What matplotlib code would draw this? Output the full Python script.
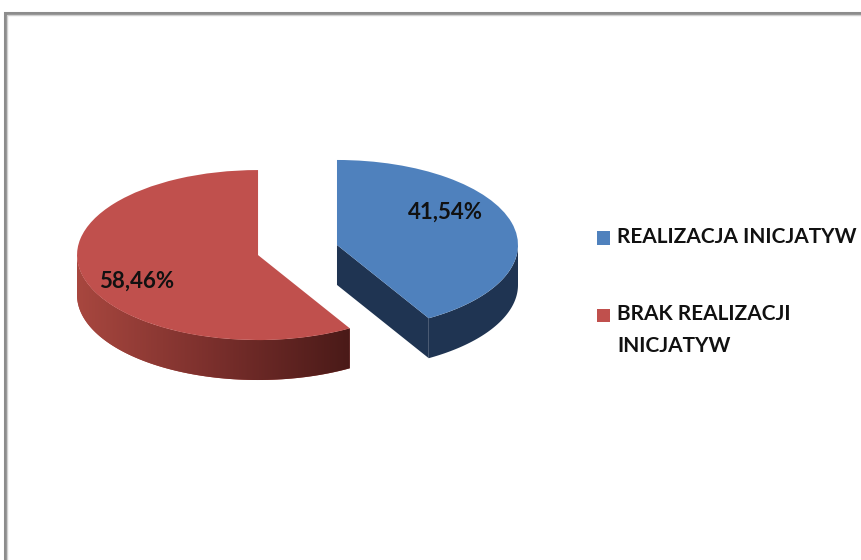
import numpy as np
import matplotlib.pyplot as plt
from matplotlib.patches import Polygon, Rectangle
from matplotlib.colors import LinearSegmentedColormap

labels = ["REALIZACJA INICJATYW", "BRAK REALIZACJI\nINICJATYW"]
shares = [41.54, 58.46]
pct_labels = ["41,54%", "58,46%"]

top_colors = ["#4F81BD", "#C0504D"]
wall_colors = [["#1F3452", "#1F3452"], ["#A8473F", "#7A2F2C", "#4A1A18"]]

EXPLODE = 0.226
DEPTH = 0.47  # side wall height, data units

fig = plt.figure(figsize=(8.61, 5.6), dpi=100)

# chart frame (Excel style double grey line), runs off right/bottom
fig.patches.append(Rectangle((5 / 861, -0.1), 1.2, 1 - 13 / 560 + 0.1, transform=fig.transFigure,
                             facecolor="none", edgecolor="#8C8C8C", linewidth=2.2))
fig.patches.append(Rectangle((7 / 861, -0.1), 1.2, 1 - 15 / 560 + 0.1, transform=fig.transFigure,
                             facecolor="none", edgecolor="#D0D0D0", linewidth=1.0))

ax = fig.add_axes([0, 0.1964, 0.6969, 0.625])

wedges, _ = ax.pie(shares, colors=top_colors, startangle=90, counterclock=False,
                   explode=[EXPLODE, EXPLODE], radius=1,
                   wedgeprops=dict(linewidth=0, zorder=3))


def arc(cx, cy, t1, t2, dy=0.0, n=80):
    t = np.radians(np.linspace(t1, t2, n))
    return np.column_stack([cx + np.cos(t), cy + np.sin(t) - dy])


def add_wall(pts, colors):
    poly = Polygon(pts, closed=True, facecolor=colors[0], edgecolor="none", zorder=2)
    ax.add_patch(poly)
    if len(set(colors)) > 1:
        cmap = LinearSegmentedColormap.from_list("wall", colors)
        x0, x1 = pts[:, 0].min(), pts[:, 0].max()
        y0, y1 = pts[:, 1].min(), pts[:, 1].max()
        im = ax.imshow(np.linspace(0, 1, 256).reshape(1, -1), cmap=cmap, aspect="auto",
                       extent=(x0, x1, y0, y1), zorder=2.1, interpolation="bilinear")
        im.set_clip_path(poly)


for w, cols in zip(wedges, wall_colors):
    cx, cy = w.center
    t1, t2 = w.theta1, w.theta2
    # outer rim facing the viewer (lower half of the ellipse)
    for lo, hi in [(-180, 0), (180, 360), (-540, -360)]:
        a, b = max(t1, lo), min(t2, hi)
        if b > a:
            top = arc(cx, cy, a, b)
            bot = arc(cx, cy, b, a, dy=DEPTH)
            add_wall(np.vstack([top, bot]), cols)
    # radial cut faces that turn towards the viewer
    for t, normal in [(t1, t1 - 90), (t2, t2 + 90)]:
        if np.sin(np.radians(normal)) < -1e-6:
            rx, ry = cx + np.cos(np.radians(t)), cy + np.sin(np.radians(t))
            face = np.array([[cx, cy], [rx, ry], [rx, ry - DEPTH], [cx, cy - DEPTH]])
            add_wall(face, [cols[0], cols[0]])

ax.text(0.815, 0.447, pct_labels[0], ha="center", va="center", fontsize=16,
        family="Lato", weight="bold", color="#111111", zorder=5)
ax.text(-0.887, -0.365, pct_labels[1], ha="center", va="center", fontsize=16,
        family="Lato", weight="bold", color="#111111", zorder=5)

ax.set_aspect("auto")
ax.set_xlim(-297.5 / 181, (600 - 297.5) / 181)
ax.set_ylim(-(450 - 250) / 85, (250 - 100) / 85)
ax.axis("off")

# legend, drawn by hand so the square sits on the first line of a wrapped label
legend_rows = [238, 315]  # pixel rows (from top) of each entry's first line
for lab, col, row in zip(labels, top_colors, legend_rows):
    fig.patches.append(Rectangle((597 / 861, 1 - (row + 6.5) / 560), 13 / 861, 13 / 560,
                                 transform=fig.transFigure, facecolor=col, edgecolor="none"))
    fig.text(617 / 861, 1 - (row - 11) / 560, lab, ha="left", va="top", family="Lato",
             weight="bold", fontsize=15, color="#111111", linespacing=1.78)

fig.savefig("out.png", dpi=100)
